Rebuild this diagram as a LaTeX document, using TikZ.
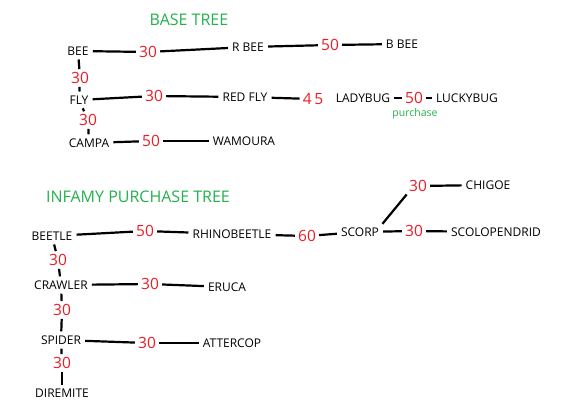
\documentclass[tikz,border=0pt]{standalone}
\usepackage{fontspec}
\setmainfont{Open Sans}
\usetikzlibrary{positioning}
\definecolor{paintred}{RGB}{237,28,36}
\definecolor{paintgreen}{RGB}{34,177,76}

\begin{document}
\begin{tikzpicture}[
  x=1pt,y=-1pt,
  insect/.style={font=\fontsize{12}{14}\selectfont,inner sep=2pt},
  cost/.style={font=\fontsize{15.5}{18}\selectfont,text=paintred,inner sep=1pt},
  title/.style={font=\fontsize{16}{19}\selectfont,text=paintgreen},
  link/.style={line width=2.2pt,shorten <=2pt,shorten >=2pt}
  ]
  \useasboundingbox (0,0) rectangle (566,412);
  % base tree
  \node (basetitle)   [title]  at (189,20)  {BASE TREE};
  \node (bee)         [insect] at (78,51)   {BEE};
  \node (rbee)        [insect] at (248,47)  {R BEE};
  \node (bbee)        [insect] at (402,44)  {B BEE};
  \node (fly)         [insect] at (79,100)  {FLY};
  \node (redfly)      [insect] at (245,97)  {RED FLY};
  \node (ladybug)     [insect] at (363,98)  {LADYBUG};
  \node (luckybug)    [insect] at (467,98)  {LUCKYBUG};
  \node (purchase)    [text=paintgreen,font=\fontsize{10.5}{12}\selectfont] at (415,114) {purchase};
  \node (campa)       [insect] at (89,143)  {CAMPA};
  \node (wamoura)     [insect] at (244,141) {WAMOURA};
  \node (beerbee)     [cost]   at (148,52)  {30};
  \node (rbeebbee)    [cost]   at (330,45)  {50};
  \node (beefly)      [cost]   at (80,78)   {30};
  \node (flyredfly)   [cost]   at (154,96)  {30};
  \node (redflylady)  [cost]   at (313,99)  {4\,5};
  \node (ladylucky)   [cost]   at (414,98)  {50};
  \node (flycampa)    [cost]   at (88,120)  {30};
  \node (campawam)    [cost]   at (151,141) {50};
  \draw [link] (bee) -- (beerbee);
  \draw [link] (beerbee) -- (rbee);
  \draw [link] (rbee) -- (rbeebbee);
  \draw [link] (rbeebbee) -- (bbee);
  \draw [link] (bee) -- (beefly);
  \draw [link] (beefly) -- (fly);
  \draw [link] (fly) -- (flyredfly);
  \draw [link] (flyredfly) -- (redfly);
  \draw [link] (redfly) -- (redflylady);
  \draw [link] (ladybug) -- (ladylucky);
  \draw [link] (ladylucky) -- (luckybug);
  \draw [link] (fly) -- (flycampa);
  \draw [link] (flycampa) -- (campa);
  \draw [link] (campa) -- (campawam);
  \draw [link] (campawam) -- (wamoura);
  % infamy purchase tree
  \node (infamytitle) [title]  at (138,197) {INFAMY PURCHASE TREE};
  \node (beetle)      [insect] at (52,236)  {BEETLE};
  \node (rhino)       [insect] at (232,234) {RHINOBEETLE};
  \node (scorp)       [insect] at (360,232) {SCORP};
  \node (chigoe)      [insect] at (488,185) {CHIGOE};
  \node (scolo)       [insect] at (496,232) {SCOLOPENDRID};
  \node (crawler)     [insect] at (61,285)  {CRAWLER};
  \node (eruca)       [insect] at (227,287) {ERUCA};
  \node (spider)      [insect] at (61,340)  {SPIDER};
  \node (attercop)    [insect] at (232,343) {ATTERCOP};
  \node (diremite)    [insect] at (62,393)  {DIREMITE};
  \node (beetlerhino) [cost]   at (145,231) {50};
  \node (rhinoscorp)  [cost]   at (307,236) {60};
  \node (scorpchig)   [cost]   at (418,186) {30};
  \node (scorpscolo)  [cost]   at (414,231) {30};
  \node (beetlecrawl) [cost]   at (58,260)  {30};
  \node (crawleruca)  [cost]   at (150,284) {30};
  \node (crawlspider) [cost]   at (62,310)  {30};
  \node (spideratter) [cost]   at (147,343) {30};
  \node (spiderdire)  [cost]   at (62,363)  {30};
  \draw [link] (beetle) -- (beetlerhino);
  \draw [link] (beetlerhino) -- (rhino);
  \draw [link] (rhino) -- (rhinoscorp);
  \draw [link] (rhinoscorp) -- (scorp);
  \draw [link] (scorp.north east) -- (scorpchig.south west);
  \draw [link] (scorpchig) -- (chigoe);
  \draw [link] (scorp) -- (scorpscolo);
  \draw [link] (scorpscolo) -- (scolo);
  \draw [link] (beetle) -- (beetlecrawl);
  \draw [link] (beetlecrawl) -- (crawler);
  \draw [link] (crawler) -- (crawleruca);
  \draw [link] (crawleruca) -- (eruca);
  \draw [link] (crawler) -- (crawlspider);
  \draw [link] (crawlspider) -- (spider);
  \draw [link] (spider) -- (spideratter);
  \draw [link] (spideratter) -- (attercop);
  \draw [link] (spider) -- (spiderdire);
  \draw [link] (spiderdire) -- (diremite);
\end{tikzpicture}
\end{document}
